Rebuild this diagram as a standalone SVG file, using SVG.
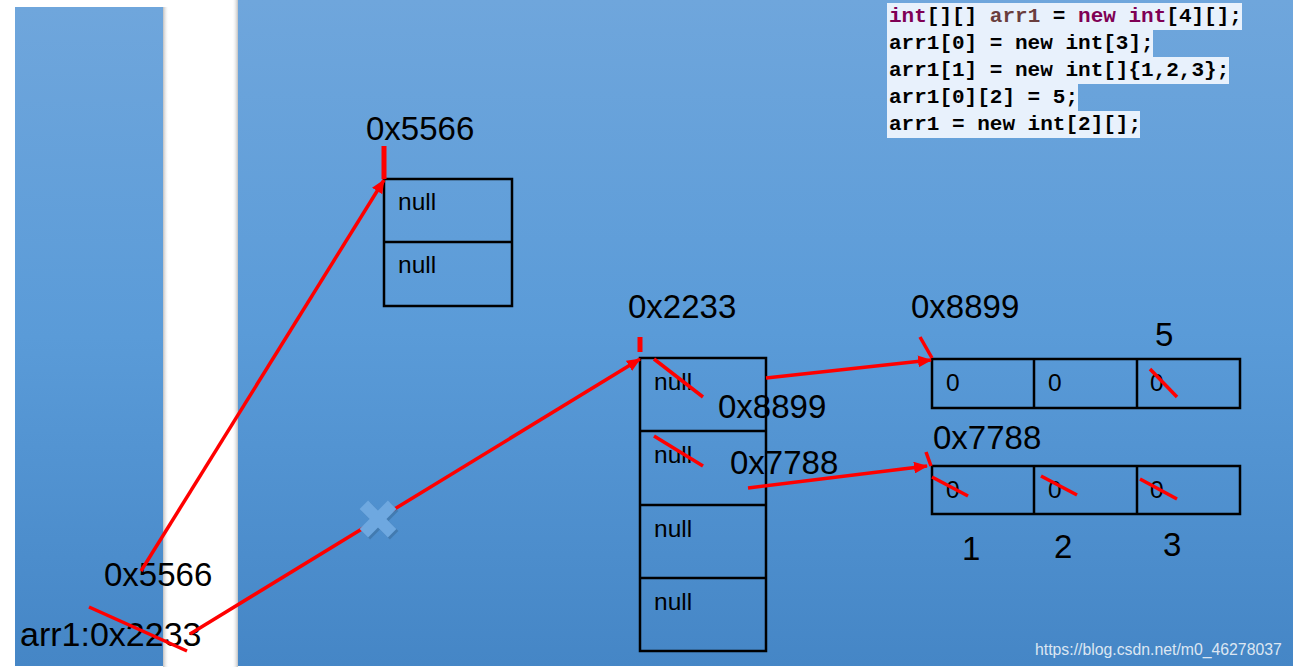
<svg xmlns="http://www.w3.org/2000/svg" width="1293" height="668" viewBox="0 0 1293 668">
<defs>
<linearGradient id="bg" x1="0" y1="0" x2="0" y2="1">
<stop offset="0" stop-color="#6fa6dc"/>
<stop offset="0.5" stop-color="#5a9bd8"/>
<stop offset="1" stop-color="#4586c6"/>
</linearGradient>
<linearGradient id="shR" x1="0" y1="0" x2="1" y2="0">
<stop offset="0" stop-color="#b0b0b0" stop-opacity="0.8"/>
<stop offset="1" stop-color="#ffffff" stop-opacity="0"/>
</linearGradient>
<linearGradient id="shL" x1="1" y1="0" x2="0" y2="0">
<stop offset="0" stop-color="#b0b0b0" stop-opacity="0.8"/>
<stop offset="1" stop-color="#ffffff" stop-opacity="0"/>
</linearGradient>
<marker id="ah" markerUnits="userSpaceOnUse" markerWidth="14" markerHeight="12" refX="13" refY="6" orient="auto">
<path d="M0,0 L14,6 L0,12 z" fill="#ff0000"/>
</marker>
<style>
.lbl{font-family:"Liberation Sans",Arial,sans-serif;font-size:33px;fill:#000}
.cell{font-family:"Liberation Sans",Arial,sans-serif;font-size:24.5px;fill:#000}
.box{fill:none;stroke:#000;stroke-width:2.5}
.arr{stroke:#ff0000;stroke-width:3.5;fill:none;marker-end:url(#ah)}
.red{stroke:#ff0000;stroke-width:3.5;fill:none}
.tick{stroke:#ff0000;stroke-width:5;fill:none}
.code{font-family:"Liberation Mono","DejaVu Sans Mono",monospace;font-size:21px;font-weight:bold;fill:#000}
.kw{fill:#7f0055}
.var{fill:#6a3e3e}
.hl{fill:#e8f1fc}
</style>
</defs>
<rect x="0" y="0" width="1293" height="668" fill="#ffffff"/>
<g id="stack-panel">
<rect x="163" y="7" width="6" height="660" fill="url(#shR)"/>
<rect x="15" y="7" width="148" height="659" fill="url(#bg)"/>
</g>
<g id="heap-panel">
<rect x="232" y="0" width="6" height="667" fill="url(#shL)"/>
<rect x="238" y="0" width="1055" height="666" fill="url(#bg)"/>
</g>
<g id="code">
<rect class="hl" x="887" y="3" width="355" height="27"/>
<rect class="hl" x="887" y="30" width="266" height="27"/>
<rect class="hl" x="887" y="57" width="342" height="27"/>
<rect class="hl" x="887" y="84" width="191" height="27"/>
<rect class="hl" x="887" y="111" width="253" height="27"/>
<text class="code" x="889" y="22" xml:space="preserve"><tspan class="kw">int</tspan>[][] <tspan class="var">arr1</tspan> = <tspan class="kw">new</tspan> <tspan class="kw">int</tspan>[4][];</text>
<text class="code" x="889" y="49" xml:space="preserve">arr1[0] = new int[3];</text>
<text class="code" x="889" y="76" xml:space="preserve">arr1[1] = new int[]{1,2,3};</text>
<text class="code" x="889" y="103" xml:space="preserve">arr1[0][2] = 5;</text>
<text class="code" x="889" y="130" xml:space="preserve">arr1 = new int[2][];</text>
</g>
<g id="stack-vars">
<text class="lbl" x="104" y="586">0x5566</text>
<text class="lbl" x="20" y="646" style="font-size:34px">arr1:0x2233</text>
<line class="red" x1="89" y1="607" x2="187" y2="651"/>
</g>
<g id="array-5566">
<text class="lbl" x="366" y="140">0x5566</text>
<path class="box" d="M384,179 H512 V306 H384 Z M384,242 H512"/>
<text class="cell" x="398" y="210">null</text>
<text class="cell" x="398" y="273">null</text>
<line class="tick" x1="384" y1="146" x2="384" y2="179"/>
</g>
<g id="array-2233">
<text class="lbl" x="628" y="318">0x2233</text>
<path class="box" d="M640,358 H766 V651 H640 Z M640,431 H766 M640,505 H766 M640,578 H766"/>
<text class="cell" x="654" y="390">null</text>
<text class="cell" x="654" y="463">null</text>
<text class="cell" x="654" y="537">null</text>
<text class="cell" x="654" y="610">null</text>
<line class="tick" x1="640" y1="337" x2="640" y2="352"/>
<line class="red" x1="654" y1="359" x2="703" y2="397"/>
<line class="red" x1="654" y1="436" x2="703" y2="466"/>
<text class="lbl" x="718" y="418">0x8899</text>
<text class="lbl" x="730" y="474">0x7788</text>
</g>
<g id="array-8899">
<text class="lbl" x="911" y="318">0x8899</text>
<text class="lbl" x="1155" y="346">5</text>
<path class="box" d="M932,359 H1240 V408 H932 Z M1034,359 V408 M1137,359 V408"/>
<text class="cell" x="946" y="391">0</text>
<text class="cell" x="1048" y="391">0</text>
<text class="cell" x="1150" y="391">0</text>
<line class="red" x1="1150" y1="369" x2="1177" y2="397"/>
<line class="red" x1="920" y1="337" x2="932" y2="358"/>
</g>
<g id="array-7788">
<text class="lbl" x="933" y="449">0x7788</text>
<path class="box" d="M932,466 H1240 V514 H932 Z M1034,466 V514 M1137,466 V514"/>
<text class="cell" x="946" y="498">0</text>
<text class="cell" x="1048" y="498">0</text>
<text class="cell" x="1150" y="498">0</text>
<line class="red" x1="932" y1="477" x2="968" y2="496"/>
<line class="red" x1="1041" y1="476" x2="1077" y2="495"/>
<line class="red" x1="1140" y1="479" x2="1177" y2="499"/>
<line class="red" x1="926" y1="452" x2="931" y2="466"/>
<text class="lbl" x="962" y="560">1</text>
<text class="lbl" x="1054" y="558">2</text>
<text class="lbl" x="1163" y="556">3</text>
</g>
<g id="connectors">
<line class="arr" x1="141" y1="571" x2="384" y2="180"/>
<line class="arr" x1="190" y1="634" x2="640" y2="359"/>
<line class="arr" x1="766" y1="378" x2="931" y2="360"/>
<line class="arr" x1="748" y1="488" x2="927" y2="466"/>
</g>
<g id="cross">
<g transform="translate(380,521) rotate(45)" fill="#3b6e9e" opacity="0.6">
<rect x="-20" y="-6" width="40" height="12"/>
<rect x="-6" y="-20" width="12" height="40"/>
</g>
<g transform="translate(378,519) rotate(45)" fill="#6ea8e0">
<rect x="-20" y="-6" width="40" height="12"/>
<rect x="-6" y="-20" width="12" height="40"/>
</g>
</g>
<text x="1035" y="655" font-family="'Liberation Sans',Arial,sans-serif" font-size="15.8" fill="#dce6f2">https://blog.csdn.net/m0_46278037</text>
</svg>
